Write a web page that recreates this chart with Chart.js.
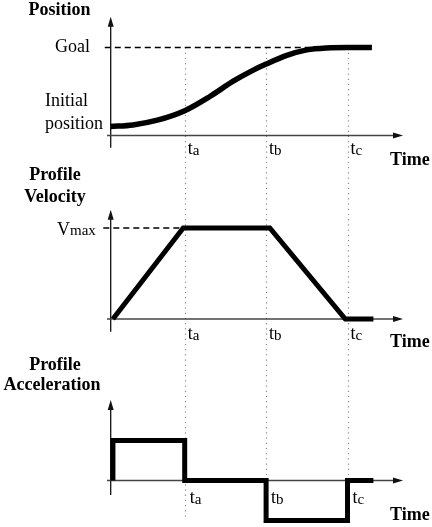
<!DOCTYPE html>
<html>
<head>
<meta charset="utf-8">
<script src="https://cdn.jsdelivr.net/npm/chart.js@4/dist/chart.umd.min.js"></script>
<style>
    html, body { margin: 0; padding: 0; background: #fff; }
    canvas { display: block; }
</style>
</head>
<body>
<canvas id="profileChart" width="432" height="527"></canvas>
<script>
// time marks ta, tb, tc
const markTimes = [1, 2.1, 3.2];
const markNames = ['a', 'b', 'c'];

// position curve (0 = initial position, 1 = goal)
const posTimes  = [0, 0.30, 0.63, 1.00, 1.34, 1.65, 1.92, 2.10, 2.38, 2.65, 2.92, 3.20, 3.53];
const posValues = [0, 0.02, 0.08, 0.20, 0.38, 0.57, 0.71, 0.79, 0.90, 0.97, 0.995, 1.00, 1.00];

// profile velocity (1 = Vmax)
const velTimes  = [0.03, 0.98, 2.15, 3.17, 3.55];
const velValues = [0, 1, 1, 0, 0];

// profile acceleration, value holds over the interval ending at each time
const accTimes  = [0.03, 1, 2.1, 3.2, 3.55];
const accValues = [0, 1, 0, -1, 0];

const goalValue = 1;
const vmaxValue = 1;

const H = 527;
const SERIF = "'Liberation Serif', 'Times New Roman', serif";

// y range so that value 0 sits at zeroPx and 1 unit is unitPx tall
function panelRange(zeroPx, unitPx) {
    return { min: -(H - zeroPx) / unitPx, max: zeroPx / unitPx };
}

function toPoints(xs, ys) {
    return xs.map((x, i) => ({ x: x, y: ys[i] }));
}

// axis extents per panel, in that panel's values
const panels = [
    { id: 'yPos', base: -0.115, top: 1.39, bottom: -0.27 },
    { id: 'yVel', base: 0, top: 1.2, bottom: -0.14 },
    { id: 'yAcc', base: 0, top: 2.01, bottom: -0.36 }
];
const dottedEnds = [-0.94, 0, 0];

function arrowUp(ctx, x, y) {
    ctx.beginPath();
    ctx.moveTo(x, y);
    ctx.lineTo(x - 3, y + 10);
    ctx.lineTo(x + 3, y + 10);
    ctx.closePath();
    ctx.fill();
}

function arrowRight(ctx, x, y) {
    ctx.beginPath();
    ctx.moveTo(x, y);
    ctx.lineTo(x - 10, y - 3);
    ctx.lineTo(x - 10, y + 3);
    ctx.closePath();
    ctx.fill();
}

// "t" + small subscript letter
function drawSub(ctx, main, sub, x, y, mainSize, subSize, drop) {
    ctx.textAlign = 'left';
    ctx.textBaseline = 'alphabetic';
    ctx.font = mainSize + 'px ' + SERIF;
    ctx.fillText(main, x, y);
    const w = ctx.measureText(main).width;
    ctx.font = subSize + 'px ' + SERIF;
    ctx.fillText(sub, x + w, y + drop);
    ctx.font = mainSize + 'px ' + SERIF;
    return w + ctx.measureText(sub).width;
}

const diagramPlugin = {
    id: 'diagram',
    beforeDatasetsDraw(chart) {
        const ctx = chart.ctx;
        const xs = chart.scales.x;
        const yPos = chart.scales.yPos;
        const yVel = chart.scales.yVel;
        const yAcc = chart.scales.yAcc;
        const x0 = xs.getPixelForValue(0);
        ctx.save();

        // dotted time marks
        ctx.strokeStyle = '#8c8c8c';
        ctx.lineWidth = 1.2;
        ctx.setLineDash([1.2, 4]);
        markTimes.forEach((t, i) => {
            const px = Math.round(xs.getPixelForValue(t)) + 0.5;
            ctx.beginPath();
            ctx.moveTo(px, yPos.getPixelForValue(goalValue));
            ctx.lineTo(px, yAcc.getPixelForValue(dottedEnds[i]));
            ctx.stroke();
        });

        // dashed goal and Vmax lines
        ctx.strokeStyle = '#000';
        ctx.lineWidth = 1.5;
        ctx.setLineDash([6, 4]);
        let gy = yPos.getPixelForValue(goalValue);
        ctx.beginPath();
        ctx.moveTo(xs.getPixelForValue(-0.08), gy);
        ctx.lineTo(xs.getPixelForValue(2.75), gy);
        ctx.stroke();
        let vy = yVel.getPixelForValue(vmaxValue);
        ctx.beginPath();
        ctx.moveTo(xs.getPixelForValue(-0.1), vy);
        ctx.lineTo(xs.getPixelForValue(0.98), vy);
        ctx.stroke();
        ctx.setLineDash([]);

        // axes with arrows
        ctx.fillStyle = '#111';
        panels.forEach(p => {
            const ys = chart.scales[p.id];
            const by = ys.getPixelForValue(p.base);
            const ty = ys.getPixelForValue(p.top);
            const bot = ys.getPixelForValue(p.bottom);
            ctx.strokeStyle = '#111';
            ctx.lineWidth = 1.3;
            ctx.beginPath();
            ctx.moveTo(x0, ty + 6);
            ctx.lineTo(x0, bot);
            ctx.stroke();
            arrowUp(ctx, x0, ty);
            ctx.strokeStyle = '#444';
            ctx.lineWidth = 1.5;
            ctx.beginPath();
            ctx.moveTo(xs.left, by);
            ctx.lineTo(xs.right - 6, by);
            ctx.stroke();
            arrowRight(ctx, xs.right, by);
        });
        ctx.restore();
    },
    afterDatasetsDraw(chart) {
        const ctx = chart.ctx;
        const xs = chart.scales.x;
        const yPos = chart.scales.yPos;
        const yVel = chart.scales.yVel;
        const yAcc = chart.scales.yAcc;
        ctx.save();
        ctx.fillStyle = '#000';

        // panel titles
        ctx.font = 'bold 18px ' + SERIF;
        ctx.textAlign = 'center';
        ctx.textBaseline = 'middle';
        ctx.fillText('Position', 59.5, 10);
        ctx.fillText('Profile', 55, 175);
        ctx.fillText('Velocity', 55, 197);
        ctx.fillText('Profile', 55, 365);
        ctx.fillText('Acceleration', 52, 385);

        // position labels
        ctx.font = '18px ' + SERIF;
        ctx.textAlign = 'right';
        ctx.fillText('Goal', 90, yPos.getPixelForValue(goalValue) - 0.5);
        ctx.textAlign = 'left';
        ctx.fillText('Initial', 45, yPos.getPixelForValue(0) - 25);
        ctx.fillText('position', 45, yPos.getPixelForValue(0) - 2);

        // Vmax label
        ctx.font = '18px ' + SERIF;
        const vBase = yVel.getPixelForValue(vmaxValue) + 6.5;
        drawSub(ctx, 'V', 'max', 57, vBase, 18, 15, 0);

        // time tick labels and axis names
        const tickOffsets = [
            { ys: yPos, base: -0.115, dx: 3, dy: 18.5 },
            { ys: yVel, base: 0, dx: 3, dy: 20 },
            { ys: yAcc, base: 0, dx: 5, dy: 22.5 }
        ];
        const timeOffsets = [24.5, 23, 34.5];
        tickOffsets.forEach((o, k) => {
            const by = o.ys.getPixelForValue(o.base);
            markTimes.forEach((t, i) => {
                drawSub(ctx, 't', markNames[i], xs.getPixelForValue(t) + o.dx, by + o.dy, 18, 15, 1);
            });
            ctx.font = 'bold 18px ' + SERIF;
            ctx.textAlign = 'left';
            ctx.textBaseline = 'middle';
            ctx.fillText('Time', xs.right - 13, by + timeOffsets[k]);
        });
        ctx.restore();
    }
};

const lineStyle = {
    borderColor: '#000',
    borderWidth: 5,
    pointRadius: 0,
    fill: false,
    clip: false,
    borderJoinStyle: 'miter',
    borderCapStyle: 'butt'
};

new Chart(document.getElementById('profileChart').getContext('2d'), {
    type: 'line',
    data: {
        datasets: [
            Object.assign({}, lineStyle, {
                label: 'Position',
                data: toPoints(posTimes, posValues),
                yAxisID: 'yPos',
                cubicInterpolationMode: 'monotone',
                borderJoinStyle: 'round',
                borderWidth: 5.5
            }),
            Object.assign({}, lineStyle, {
                label: 'Profile Velocity',
                data: toPoints(velTimes, velValues),
                yAxisID: 'yVel'
            }),
            Object.assign({}, lineStyle, {
                label: 'Profile Acceleration',
                data: toPoints(accTimes, accValues),
                yAxisID: 'yAcc',
                stepped: 'after'
            })
        ]
    },
    options: {
        responsive: false,
        animation: false,
        devicePixelRatio: 1,
        layout: { padding: { left: 107, right: 29, top: 0, bottom: 0 } },
        plugins: {
            legend: { display: false },
            tooltip: { enabled: false }
        },
        scales: {
            x: { type: 'linear', min: -0.05, max: 3.95, display: false },
            yPos: Object.assign({ type: 'linear', display: false, bounds: 'data' }, panelRange(126.5, 79)),
            yVel: Object.assign({ type: 'linear', display: false, bounds: 'data' }, panelRange(319, 91)),
            yAcc: Object.assign({ type: 'linear', display: false, bounds: 'data' }, panelRange(480.5, 40))
        }
    },
    plugins: [diagramPlugin]
});
</script>
</body>
</html>
